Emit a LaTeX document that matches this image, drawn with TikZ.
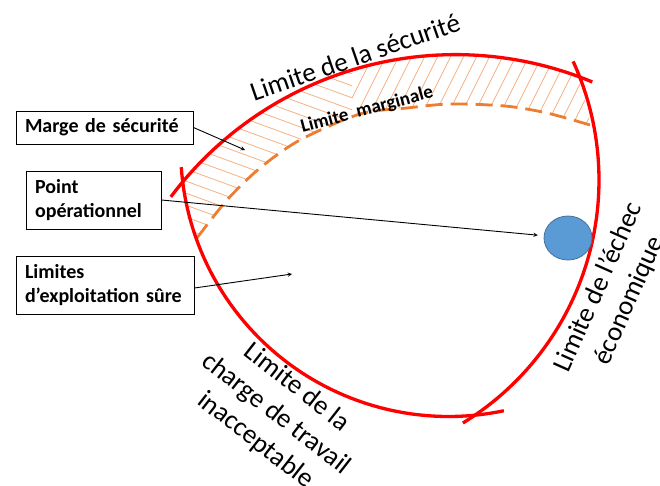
\documentclass[tikz,border=0pt]{standalone}
\usepackage{fontspec}
\setmainfont{Carlito}
\usepackage{tikz}
\usetikzlibrary{shapes.geometric, arrows}
\definecolor{limred}{RGB}{255,0,0}
\definecolor{margorange}{RGB}{237,125,49}
\definecolor{hatchorange}{RGB}{244,177,131}
\definecolor{opblue}{RGB}{91,155,213}
\definecolor{opborder}{RGB}{65,113,156}
\tikzstyle{box} = [rectangle, draw, line width=1pt, align=left, inner xsep=9pt, font=\fontsize{20}{24}\selectfont\bfseries]
\tikzstyle{arrow} = [line width=0.9pt,->,>=stealth]
\tikzstyle{limit} = [limred, line width=3.3pt]
\tikzstyle{biglabel} = [align=center, font=\fontsize{27}{33.6}\selectfont]
\tikzstyle{hatch} = [hatchorange, line width=0.8pt]

\begin{document}
\begin{tikzpicture}[x=1pt, y=-1pt]
  \useasboundingbox (0,0) rectangle (660,485);

  \begin{scope}
    \clip plot[domain=-140.1:-70, samples=40] ({455.5+356*cos(\x)}, {410.6+356*sin(\x)})
      -- (587,107)
      -- plot[smooth] coordinates {(590,125) (547,113) (505,106) (450,104) (407,108) (360,114) (300,140) (260,168) (227,200) (197,238)}
      -- (187,217) -- cycle;
    \begin{scope}
      \clip (0,0) rectangle (352,485);
      \foreach \i in {0,...,21} \draw [hatch] (150,{12*\i}) -- ++(260,95);
    \end{scope}
    \begin{scope}
      \clip (352,0) rectangle (660,485);
      \foreach \i in {0,...,24} \draw [hatch] ({300+13*\i},150) -- ++(55,-110);
    \end{scope}
  \end{scope}

  \draw [margorange, line width=2.8pt, dash pattern=on 17pt off 8pt] plot[smooth] coordinates {(197,238) (227,200) (260,168) (300,140) (360,114) (407,108) (450,104) (505,106) (547,113) (590,125)};

  \draw [limit] plot[domain=-143.1:-67.4, samples=60] ({455.5+356*cos(\x)}, {410.6+356*sin(\x)});
  \draw [limit] plot[domain=-24.6:58.5, samples=60] ({314+285*cos(\x)}, {180+285*sin(\x)});
  \draw [limit] plot[domain=78.1:176, samples=60] ({448.6+268*cos(\x)}, {148.5+268*sin(\x)});

  \node (op) [ellipse, fill=opblue, draw=opborder, line width=0.8pt, minimum width=48pt, minimum height=44pt, inner sep=0pt] at (568,238) {};

  \node (marge) [box, text width=159pt, minimum width=177pt, minimum height=33pt] at (104.5,127.5) {Marge de sécurité};
  \node (point) [box, text width=117pt, minimum width=135pt, minimum height=58pt] at (93.5,200) {Point\\opérationnel};
  \node (limites) [box, text width=160pt, minimum width=178pt, minimum height=58pt] at (105,285) {Limites\\d’exploitation sûre};

  \coordinate (margetip) at (245,150);
  \coordinate (limtip) at (292,274);
  \draw [arrow] (marge.east) -- (margetip);
  \draw [arrow, shorten >=6pt] (point.east) -- (op);
  \draw [arrow] ([yshift=-3pt]limites.east) -- (limtip);

  \node (safety) [biglabel, rotate=19] at (355,57) {Limite de la sécurité};
  \node (marginal) [rotate=15, font=\fontsize{19}{23}\selectfont\bfseries] at (367,110) {Limite\ \ marginale};
  \node (workload) [biglabel, rotate=-38] at (276,414) {Limite de la\\charge de travail\\inacceptable};
  \node (economic) [biglabel, rotate=66] at (614,294) {Limite de l’échec\\économique};
\end{tikzpicture}
\end{document}
